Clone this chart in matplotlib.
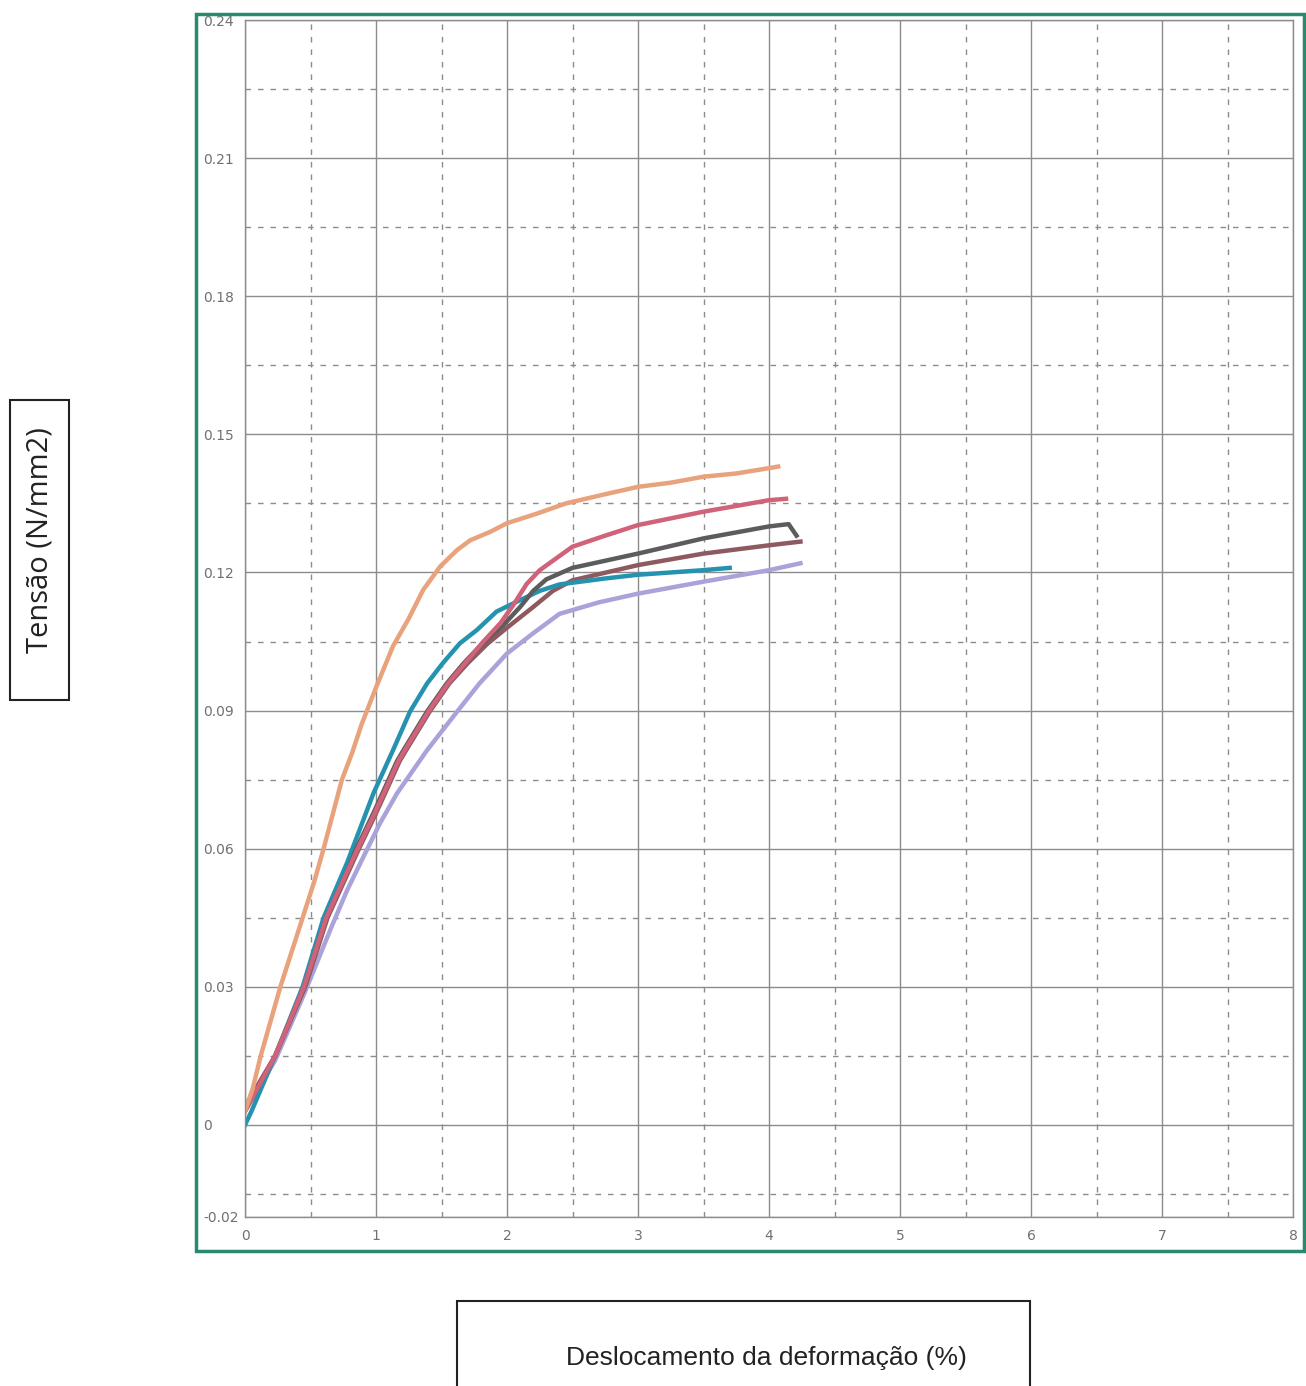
import matplotlib.pyplot as plt
from matplotlib.patches import Rectangle
from matplotlib.ticker import MultipleLocator

# ── Data ──
x_orange = [0, 0.06, 0.12, 0.27, 0.44, 0.53, 0.60, 0.74, 0.82, 0.89, 1.0, 1.13, 1.25, 1.36,
            1.49, 1.62, 1.72, 1.87, 2.0, 2.23, 2.45, 2.75, 3.0, 3.25, 3.5, 3.75, 4.03, 4.07]
y_orange = [0.003, 0.008, 0.015, 0.030, 0.045, 0.053, 0.060, 0.075, 0.081, 0.087, 0.095,
            0.104, 0.110, 0.1162, 0.1213, 0.1249, 0.127, 0.1288, 0.1307, 0.1328, 0.135,
            0.137, 0.1386, 0.1395, 0.1408, 0.1415, 0.1428, 0.143]

x_pink = [0, 0.23, 0.45, 0.62, 0.78, 0.86, 0.99, 1.17, 1.22, 1.40, 1.55, 1.68, 1.82, 1.95,
          2.05, 2.15, 2.25, 2.5, 2.75, 3.0, 3.5, 4.0, 4.13]
y_pink = [0.003, 0.015, 0.030, 0.045, 0.055, 0.060, 0.0677, 0.079, 0.0814, 0.0898, 0.0959,
          0.1003, 0.105, 0.109, 0.113, 0.1175, 0.1205, 0.1256, 0.128, 0.1303, 0.1332,
          0.1357, 0.136]

x_gray = [0, 0.23, 0.45, 0.62, 0.78, 0.85, 0.98, 1.16, 1.21, 1.39, 1.54, 1.67, 1.82, 1.97,
          2.1, 2.2, 2.3, 2.5, 3.0, 3.5, 4.0, 4.15, 4.21]
y_gray = [0.003, 0.015, 0.030, 0.045, 0.055, 0.060, 0.0677, 0.079, 0.0814, 0.0898, 0.0959,
          0.1003, 0.1048, 0.1085, 0.1125, 0.116, 0.1185, 0.121, 0.1241, 0.1274, 0.130,
          0.1305, 0.128]

x_brown = [0, 0.23, 0.46, 0.63, 0.79, 0.87, 1.0, 1.18, 1.23, 1.41, 1.56, 1.70, 1.85, 2.0,
           2.2, 2.35, 2.5, 3.0, 3.5, 4.0, 4.24]
y_brown = [0.004, 0.015, 0.030, 0.045, 0.055, 0.060, 0.0677, 0.079, 0.0814, 0.0898, 0.0959,
           0.1003, 0.1045, 0.108, 0.1125, 0.116, 0.1183, 0.1216, 0.1241, 0.1259, 0.1267]

x_teal = [0, 0.05, 0.23, 0.44, 0.6, 0.78, 0.9, 0.98, 1.13, 1.26, 1.39, 1.51, 1.64,
          1.77, 1.92, 2.1, 2.25, 2.4, 2.75, 3.0, 3.5, 3.7]
y_teal = [0.0, 0.003, 0.015, 0.030, 0.045, 0.057, 0.066, 0.072, 0.0814, 0.0898,
          0.0959, 0.1003, 0.1046, 0.1075, 0.1115, 0.114, 0.116, 0.1174, 0.1187, 0.1195,
          0.1205, 0.121]

x_lav = [0, 0.23, 0.46, 0.66, 0.78, 0.9, 1.03, 1.16, 1.39, 1.62, 1.79, 2.0, 2.2, 2.4, 2.7,
         3.0, 3.5, 4.0, 4.24]
y_lav = [0.003, 0.014, 0.029, 0.043, 0.051, 0.058, 0.0655, 0.072, 0.0814, 0.0898, 0.0959,
         0.1024, 0.1068, 0.111, 0.1135, 0.1154, 0.118, 0.1205, 0.122]

y_ticks = [-0.02, 0, 0.03, 0.06, 0.09, 0.12, 0.15, 0.18, 0.21, 0.24]
y_tick_labels = ["-0.02", "0", "0.03", "0.06", "0.09", "0.12", "0.15", "0.18", "0.21", "0.24"]
x_ticks = [0, 1, 2, 3, 4, 5, 6, 7, 8]

fig = plt.figure(figsize=(13.06, 13.86), dpi=100)
fig.patch.set_facecolor("white")
ax = fig.add_axes([245 / 1306, 169 / 1386, 1048 / 1306, 1197 / 1386])

# ── Curves ──
lw = 3.2
ax.plot(x_lav, y_lav, color="#aaa3da", linewidth=lw, solid_joinstyle="round")
ax.plot(x_brown, y_brown, color="#8e5a60", linewidth=lw, solid_joinstyle="round")
ax.plot(x_teal, y_teal, color="#2593b0", linewidth=lw, solid_joinstyle="round")
ax.plot(x_gray, y_gray, color="#5c5c5c", linewidth=lw, solid_joinstyle="round")
ax.plot(x_pink, y_pink, color="#d0627a", linewidth=lw, solid_joinstyle="round")
ax.plot(x_orange, y_orange, color="#e8a27c", linewidth=lw, solid_joinstyle="round")

# ── Axes / grid ──
ax.set_xlim(0, 8)
ax.set_ylim(-0.02, 0.24)
ax.set_xticks(x_ticks)
ax.set_yticks(y_ticks)
ax.set_yticklabels(y_tick_labels)
ax.xaxis.set_minor_locator(MultipleLocator(0.5))
ax.set_yticks([-0.015 + 0.03 * i for i in range(9)], minor=True)
ax.grid(which="major", color="#8c8c8c", linewidth=1.0, linestyle="-")
ax.grid(which="minor", color="#8c8c8c", linewidth=1.0, linestyle=(0, (4, 5)))
ax.set_axisbelow(True)
ax.tick_params(which="both", length=0)
ax.tick_params(axis="y", pad=30, labelsize=10, labelcolor="#707070")
ax.tick_params(axis="x", pad=9, labelsize=10, labelcolor="#707070")
for lbl in ax.get_yticklabels():
    lbl.set_horizontalalignment("left")
for s in ax.spines.values():
    s.set_color("#8c8c8c")
    s.set_linewidth(1.0)

# ── Green frame around the plot ──
fig.patches.append(Rectangle((196 / 1306, 135 / 1386), 1108 / 1306, 1237 / 1386,
                             transform=fig.transFigure, fill=False,
                             edgecolor="#2a8a70", linewidth=2.5))

# ── Boxed axis labels ──
fig.patches.append(Rectangle((10 / 1306, 686 / 1386), 59 / 1306, 300 / 1386,
                             transform=fig.transFigure, fill=False,
                             edgecolor="#222222", linewidth=1.5))
fig.text(40 / 1306, 1 - 540 / 1386, "Tensão (N/mm2)", rotation=90, ha="center", va="center",
         fontsize=21, family="Open Sans", color="#222222")

fig.patches.append(Rectangle((457 / 1306, -20 / 1386), 573 / 1306, 105 / 1386,
                             transform=fig.transFigure, fill=False,
                             edgecolor="#222222", linewidth=1.5, clip_on=False))
fig.text(766 / 1306, 1 - 1358 / 1386, "Deslocamento da deformação (%)", ha="center",
         va="center", fontsize=19, family="Liberation Sans", color="#222222")

plt.savefig("out.png", dpi=100)
